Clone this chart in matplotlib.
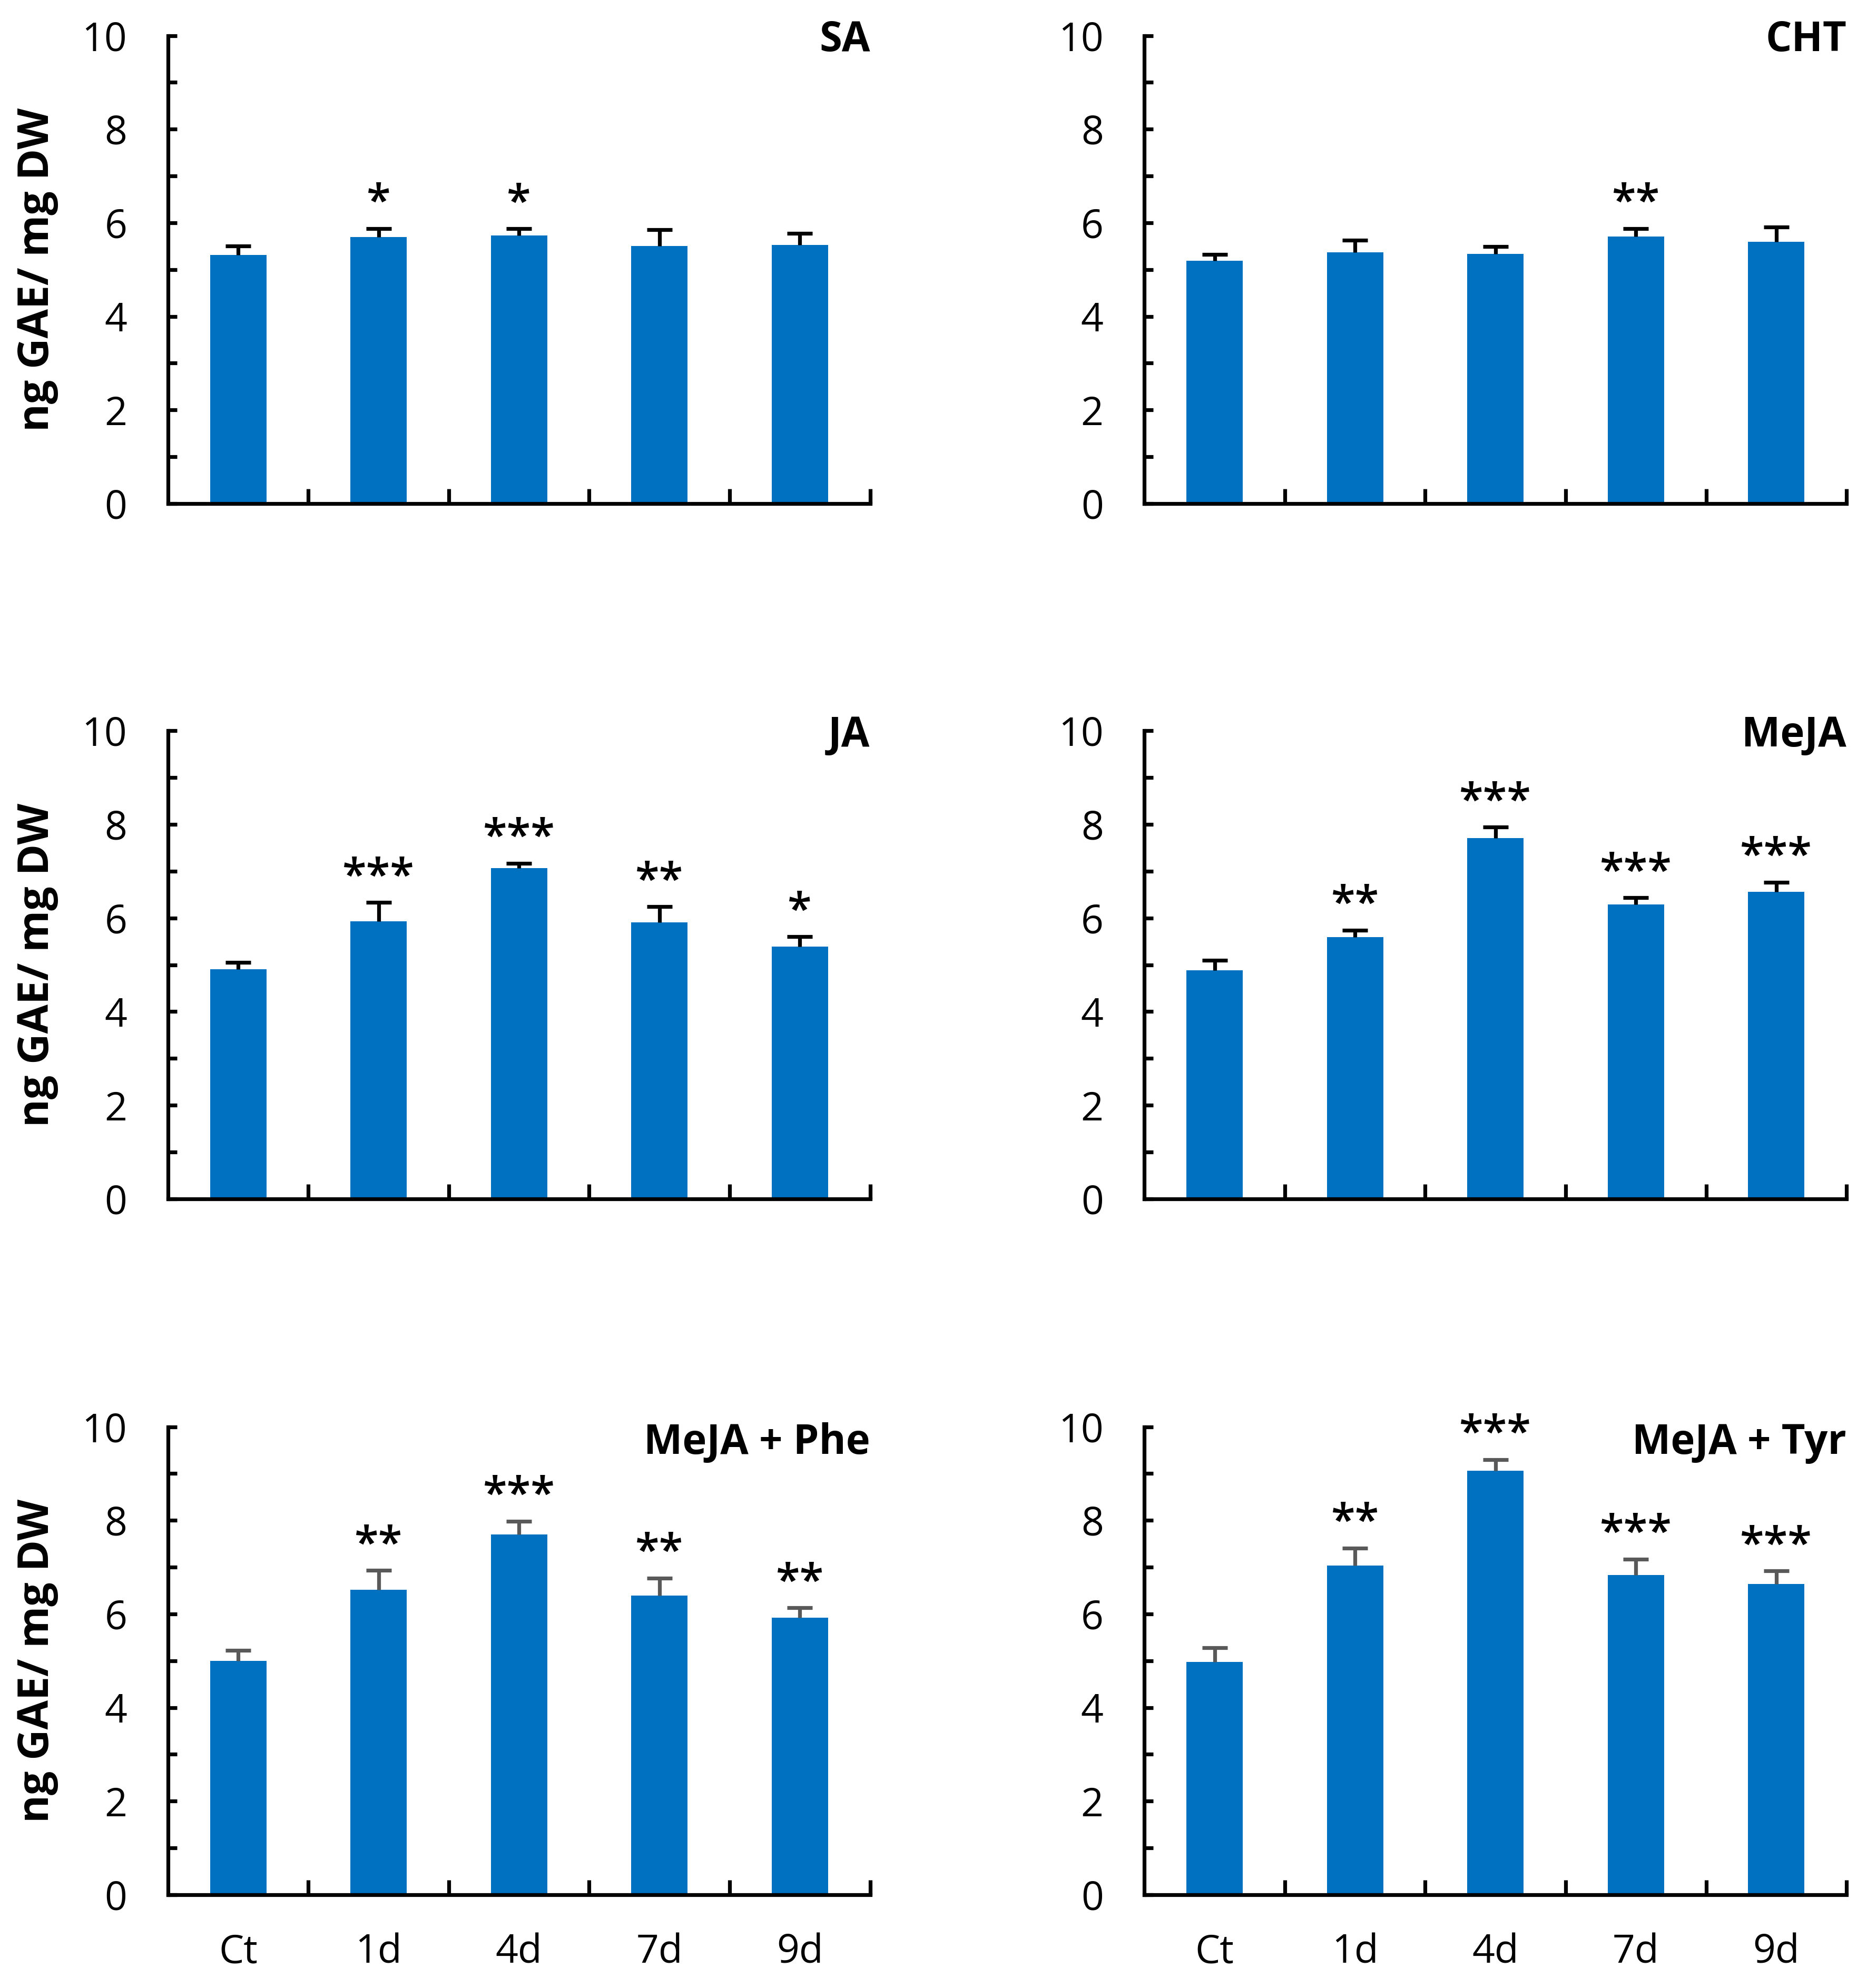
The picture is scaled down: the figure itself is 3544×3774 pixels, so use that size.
import matplotlib
matplotlib.use('Agg')
import matplotlib.pyplot as plt
import numpy as np

plt.rcParams['font.family'] = ['Open Sans', 'DejaVu Sans']

# Data
categories = ['Ct', '1d', '4d', '7d', '9d']
panel_names = ['SA', 'CHT', 'JA', 'MeJA', 'MeJA + Phe', 'MeJA + Tyr']

sa_mean = [5.31, 5.70, 5.73, 5.50, 5.53]
sa_err = [0.19, 0.18, 0.14, 0.35, 0.24]
sa_sig = ['', '*', '*', '', '']

cht_mean = [5.19, 5.37, 5.33, 5.71, 5.59]
cht_err = [0.13, 0.26, 0.16, 0.17, 0.32]
cht_sig = ['', '', '', '**', '']

ja_mean = [4.91, 5.93, 7.07, 5.91, 5.39]
ja_err = [0.14, 0.40, 0.10, 0.33, 0.21]
ja_sig = ['', '***', '***', '**', '*']

meja_mean = [4.88, 5.59, 7.71, 6.29, 6.56]
meja_err = [0.22, 0.15, 0.23, 0.14, 0.20]
meja_sig = ['', '**', '***', '***', '***']

phe_mean = [5.00, 6.52, 7.70, 6.39, 5.92]
phe_err = [0.22, 0.41, 0.28, 0.38, 0.21]
phe_sig = ['', '**', '***', '**', '**']

tyr_mean = [4.98, 7.03, 9.06, 6.83, 6.64]
tyr_err = [0.30, 0.38, 0.24, 0.34, 0.28]
tyr_sig = ['', '**', '***', '***', '***']

means = [sa_mean, cht_mean, ja_mean, meja_mean, phe_mean, tyr_mean]
errs = [sa_err, cht_err, ja_err, meja_err, phe_err, tyr_err]
sigs = [sa_sig, cht_sig, ja_sig, meja_sig, phe_sig, tyr_sig]

bar_color = '#0070C0'
err_colors = ['black', 'black', 'black', 'black', '#595959', '#595959']

fig = plt.figure(figsize=(17.72, 18.87), dpi=200)

lefts = [0.090, 0.613]
bottoms = [0.7467, 0.397, 0.0469]
title_y = [0.99, 0.99, 0.965]
w, h = 0.376, 0.2354

x = np.arange(len(categories))

for i in range(6):
    row, col = divmod(i, 2)
    ax = fig.add_axes([lefts[col], bottoms[row], w, h])
    m = np.array(means[i])
    e = np.array(errs[i])
    ax.bar(x, m, width=0.4, color=bar_color, zorder=2)
    # upper error bars only
    eb = ax.errorbar(x, m, yerr=[np.zeros_like(e), e], fmt='none',
                     ecolor=err_colors[i], elinewidth=2.6, capsize=8.5,
                     capthick=2.6, zorder=3)
    eb.lines[1][0].remove()
    for xi, top, s in zip(x, m + e, sigs[i]):
        if s:
            ax.text(xi, top + 0.27, s, ha='center', va='baseline',
                    fontsize=30, fontweight='semibold', color='black')

    ax.set_xlim(-0.5, 4.5)
    ax.set_ylim(0, 10)
    ax.spines['top'].set_visible(False)
    ax.spines['right'].set_visible(False)
    ax.spines['left'].set_linewidth(2.6)
    ax.spines['bottom'].set_linewidth(2.6)

    ax.set_yticks(np.arange(0, 11, 2))
    ax.set_yticks(np.arange(1, 10, 2), minor=True)
    ax.tick_params(axis='y', which='both', direction='in', length=6,
                   width=2.6, pad=28, labelsize=27)

    ax.set_xticks(x)
    ax.set_xticks(np.arange(0.5, 5, 1), minor=True)
    ax.tick_params(axis='x', which='major', length=0, pad=26, labelsize=27)
    ax.tick_params(axis='x', which='minor', direction='in', length=10,
                   width=2.6)
    if row == 2:
        ax.set_xticklabels(categories)
    else:
        ax.set_xticklabels([])

    ax.text(1.0, title_y[row], panel_names[i], transform=ax.transAxes,
            ha='right', va='center', fontsize=28, fontweight='bold')

    if col == 0:
        ax.set_ylabel('ng GAE/ mg DW', fontsize=29, fontweight='bold',
                      labelpad=16)

fig.savefig('out.png', dpi=200)
